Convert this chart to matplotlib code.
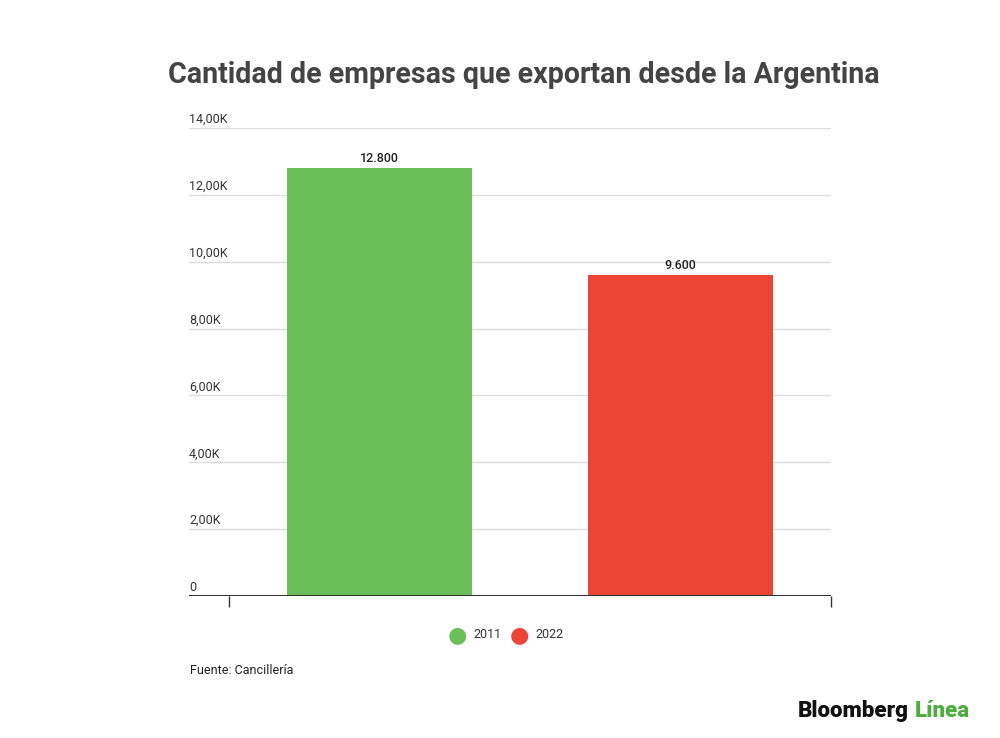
import matplotlib.pyplot as plt
from matplotlib.transforms import blended_transform_factory

plt.rcParams['font.family'] = ['Roboto', 'DejaVu Sans']

# datos
years = ['2011', '2022']
empresas = [12800, 9600]
value_labels = ['12.800', '9.600']
colors = ['#6abf59', '#ec4437']
y_ticks = [0, 2000, 4000, 6000, 8000, 10000, 12000, 14000]
y_tick_labels = ['0', '2,00K', '4,00K', '6,00K', '8,00K', '10,00K', '12,00K', '14,00K']

fig = plt.figure(figsize=(10, 7.38), dpi=100)
ax = fig.add_axes([0.189, 0.1924, 0.642, 0.6341])

x = list(range(len(years)))
ax.bar(x, empresas, width=0.615, color=colors, zorder=3)
for xi, v, lab in zip(x, empresas, value_labels):
    ax.text(xi, v + 80, lab, ha='center', va='bottom', fontsize=9,
            fontweight='medium', color='#222222')

ax.set_ylim(0, 14000)
ax.set_xlim(-0.633, 1.5)

# grilla y etiquetas del eje y
trans = blended_transform_factory(ax.transAxes, ax.transData)
for t, lab in zip(y_ticks, y_tick_labels):
    if t > 0:
        ax.axhline(t, color='#dddddd', lw=1, zorder=1)
    ax.text(0, t + 60, lab, transform=trans, ha='left', va='bottom',
            fontsize=9, color='#333333')

ax.axhline(0, color='#333333', lw=1.5, zorder=4)
ax.set_yticks([])
ax.set_xticks([-0.5, 1.5])
ax.set_xticklabels([])
ax.tick_params(axis='x', length=8, width=1, color='#333333', direction='out')
for s in ax.spines.values():
    s.set_visible(False)

fig.text(0.524, 0.899, 'Cantidad de empresas que exportan desde la Argentina',
         ha='center', va='center', fontsize=20.6, fontweight='bold', color='#444444')

# leyenda
for i, (yr, c) in enumerate(zip(years, colors)):
    fx = 0.457 + i * 0.062
    fig.text(fx, 1 - 635 / 738, '\u25CF', ha='center', va='center', fontsize=16, color=c,
             family=['DejaVu Sans'])
    fig.text(fx + 0.016, 1 - 635 / 738, yr, ha='left', va='center', fontsize=9, color='#333333')

fig.text(0.19, 1 - 670 / 738, 'Fuente: Cancillería', ha='left', va='center',
         fontsize=9, color='#222222')

fig.text(0.798, 1 - 711 / 738, 'Bloomberg', ha='left', va='center', fontsize=16,
         fontweight='black', color='#111111')
fig.text(0.915, 1 - 711 / 738, 'Línea', ha='left', va='center', fontsize=16,
         fontweight='black', color='#4caf3c')

fig.savefig('out.png', dpi=100, facecolor='white')
